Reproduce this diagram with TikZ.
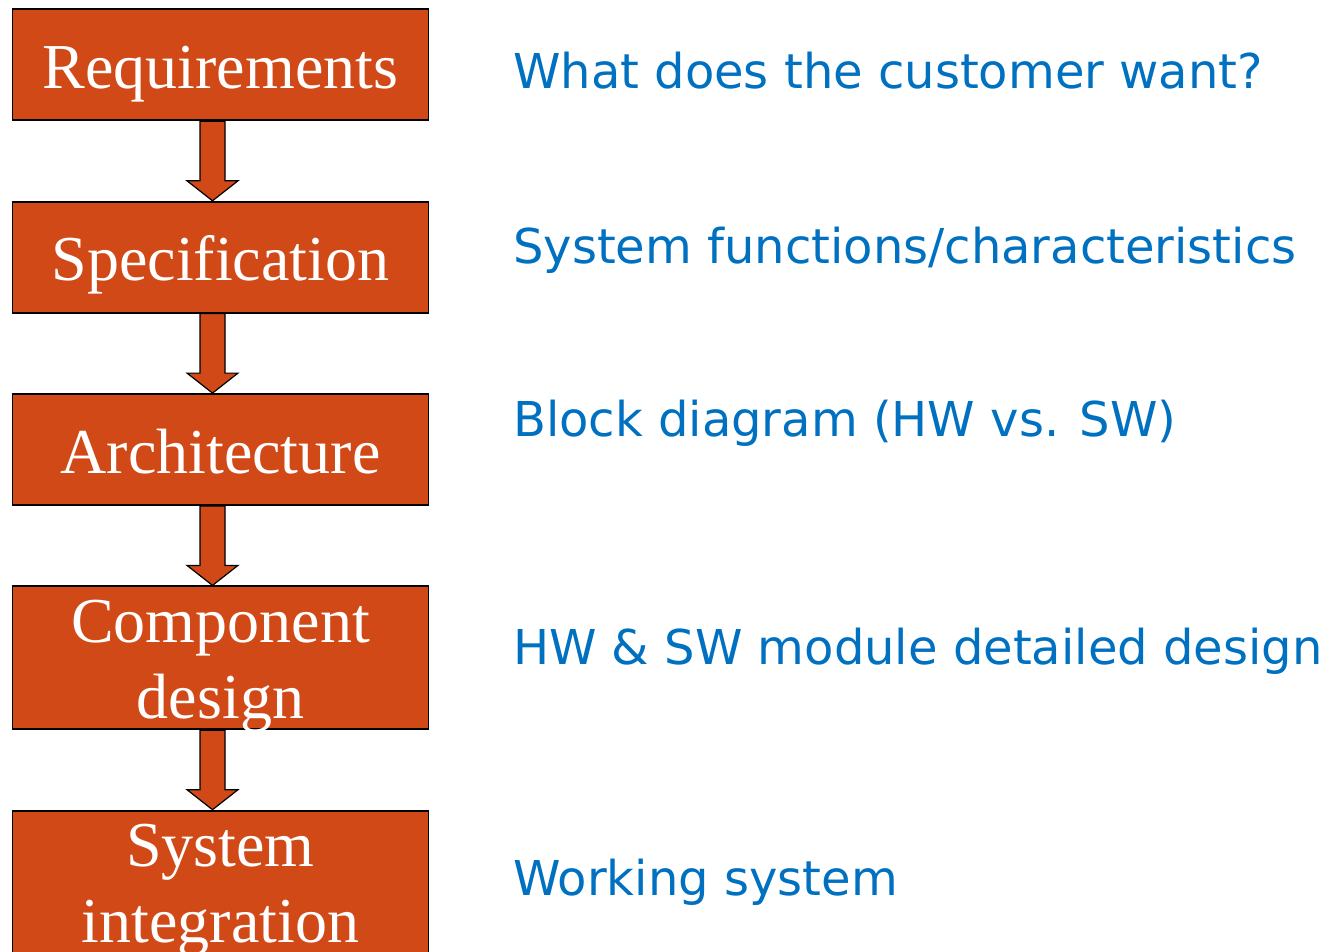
\documentclass[tikz,border=0pt]{standalone}
\usepackage{fontspec}
\setmainfont{Liberation Serif}
\newfontfamily\notefont{DejaVu Sans}
\usetikzlibrary{positioning, calc}

\definecolor{boxorange}{RGB}{209,73,23}
\definecolor{noteblue}{RGB}{0,112,192}

\begin{document}
\begin{tikzpicture}[
    node distance=79.5pt,
    font=\fontsize{64pt}{76pt}\selectfont,
    % Estilos
    stagebox/.style={rectangle, draw=black, fill=boxorange, line width=1.8pt, text=white, align=center,
        minimum width=416pt, inner sep=0pt, text height=79pt, text depth=32pt},
    tallbox/.style={stagebox, text height=132pt, text depth=11pt},
    flowarrow/.style={draw=black, fill=boxorange, line width=1.2pt, line join=miter},
    note/.style={anchor=base west, text=noteblue, font=\notefont\fontsize{48pt}{56pt}\selectfont, inner sep=0pt}
]
\useasboundingbox (0,0) rectangle (1328pt,-952pt);

% -------------------------
% Etapas (izquierda)
% -------------------------
\node[stagebox] (req) at (220.5pt,-8.5pt) [anchor=north] {Requirements};
\node[stagebox, below=of req] (spec) {Specification};
\node[stagebox, below=of spec] (arch) {Architecture};
\node[tallbox, below=of arch] (comp) {Component\\design};
\node[tallbox, below=of comp] (integ) {System\\integration};

% Flechas entre etapas
\foreach \a/\b in {req/spec, spec/arch, arch/comp, comp/integ} {
    \filldraw[flowarrow] ($(\a.south)+(-20.5pt,0)$) -- ($(\b.north)+(-20.5pt,20pt)$)
        -- ($(\b.north)+(-33.5pt,20pt)$) -- ($(\b.north)+(-8pt,0)$)
        -- ($(\b.north)+(17.5pt,20pt)$) -- ($(\b.north)+(4.5pt,20pt)$)
        -- ($(\a.south)+(4.5pt,0)$) -- cycle;
}

% -------------------------
% Descripciones (derecha)
% -------------------------
\node[note] (reqnote) at (513pt,-89pt) {What does the customer want?};
\node[note] (specnote) at (513pt,-263pt) {System functions/characteristics};
\node[note] (archnote) at (513pt,-436pt) {Block diagram (HW vs. SW)};
\node[note] (compnote) at (513pt,-664pt) {HW \& SW module detailed design};
\node[note] (integnote) at (513pt,-895pt) {Working system};

\end{tikzpicture}
\end{document}
